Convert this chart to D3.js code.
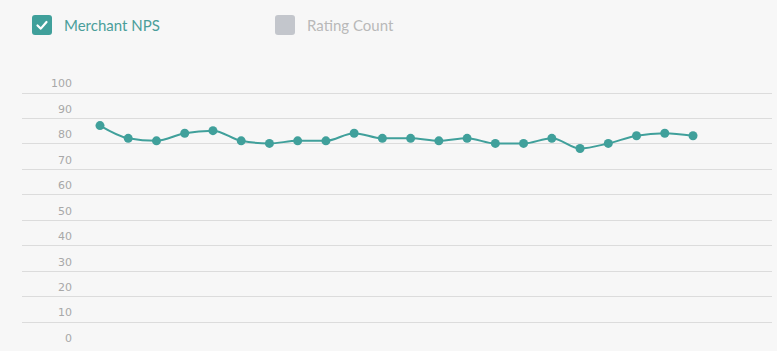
<!DOCTYPE html>
<html lang="en">
<head>
    <meta charset="UTF-8">
    <title>Merchant NPS</title>
    <style>
        html, body{
            margin: 0;
            padding: 0;
            background: #f7f7f7;
        }
        .grid line{
            stroke: #dcdcdc;
            stroke-width: 1;
            shape-rendering: crispEdges;
        }
        .tick-label{
            font: 11px "DejaVu Sans", sans-serif;
            fill: #a8a8a8;
        }
        .legend text{
            font: 15px Lato, sans-serif;
        }
    </style>
</head>
<body>
    <svg width="777" height="351"></svg>
    <script src="https://d3js.org/d3.v7.min.js"></script>
    <script>
        // periods (no x axis labels shown in the chart)
        var periods = ["P1","P2","P3","P4","P5","P6","P7","P8","P9","P10","P11",
                       "P12","P13","P14","P15","P16","P17","P18","P19","P20","P21","P22"];
        var nps = [87, 82, 81, 84, 85, 81, 80, 81, 81, 84, 82,
                   82, 81, 82, 80, 80, 82, 78, 80, 83, 84, 83];
        var yTicks = [0, 10, 20, 30, 40, 50, 60, 70, 80, 90, 100];
        var legendItems = ["Merchant NPS", "Rating Count"];

        var svg = d3.select("svg"),
            teal = "#40a09b";

        var x = d3.scalePoint().domain(periods).range([100, 693]);
        var y = d3.scaleLinear().domain([0, 100]).range([347, 92.5]);

        // gridlines (no line drawn for 0)
        svg.append("g")
            .attr("class", "grid")
            .selectAll("line")
            .data(yTicks.filter(function(d){ return d > 0; }))
            .enter().append("line")
            .attr("x1", 22)
            .attr("x2", 772)
            .attr("y1", function(d){ return Math.round(y(d)) + 0.5; })
            .attr("y2", function(d){ return Math.round(y(d)) + 0.5; });

        // tick labels sit above their gridline
        svg.append("g")
            .selectAll("text")
            .data(yTicks)
            .enter().append("text")
            .attr("class", "tick-label")
            .attr("x", 72)
            .attr("y", function(d){ return y(d) - 9; })
            .attr("dy", "0.35em")
            .attr("text-anchor", "end")
            .text(function(d){ return d; });

        var line = d3.line()
            .x(function(d, i){ return x(periods[i]); })
            .y(function(d){ return y(d); })
            .curve(d3.curveMonotoneX);

        svg.append("path")
            .datum(nps)
            .attr("fill", "none")
            .attr("stroke", teal)
            .attr("stroke-width", 2)
            .attr("d", line);

        svg.selectAll(".dot")
            .data(nps)
            .enter().append("circle")
            .attr("class", "dot")
            .attr("r", 4.5)
            .attr("cx", function(d, i){ return x(periods[i]); })
            .attr("cy", function(d){ return y(d); })
            .attr("fill", teal);

        // legend
        var legendX = [32, 275],
            boxColor = [teal, "#c3c6cc"],
            textColor = ["#4a9e9a", "#b9b9b9"];

        var legend = svg.selectAll(".legend")
            .data(legendItems)
            .enter().append("g")
            .attr("class", "legend")
            .attr("transform", function(d, i){ return "translate(" + legendX[i] + ",15)"; });

        legend.append("rect")
            .attr("width", 20)
            .attr("height", 20)
            .attr("rx", 3)
            .attr("fill", function(d, i){ return boxColor[i]; });

        legend.filter(function(d, i){ return i === 0; })
            .append("path")
            .attr("d", "M5.5,10.5 L8.8,13.6 L14.5,7")
            .attr("fill", "none")
            .attr("stroke", "#fff")
            .attr("stroke-width", 2.2)
            .attr("stroke-linecap", "round")
            .attr("stroke-linejoin", "round");

        legend.append("text")
            .attr("x", 32)
            .attr("y", 10.5)
            .attr("dy", "0.35em")
            .attr("fill", function(d, i){ return textColor[i]; })
            .text(function(d){ return d; });
    </script>
</body>
</html>
